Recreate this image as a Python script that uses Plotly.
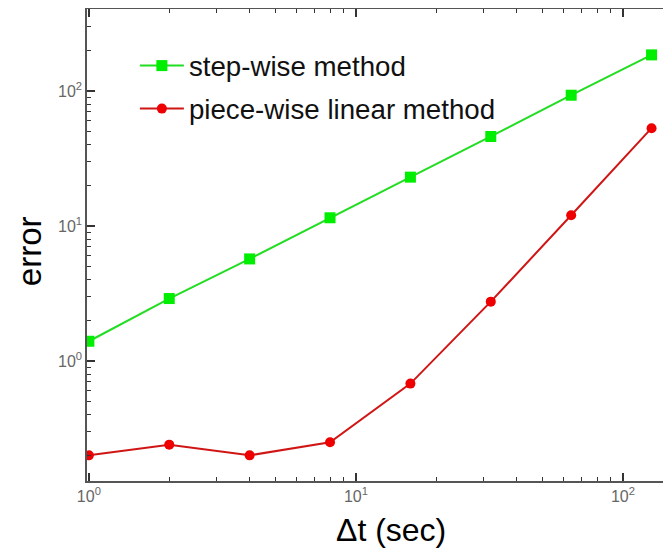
import plotly.graph_objects as go

dt = [1, 2, 4, 8, 16, 32, 64, 128]
step_err = [1.4, 2.9, 5.7, 11.5, 23, 46, 93, 185]
pw_err = [0.2, 0.24, 0.2, 0.25, 0.68, 2.75, 12, 53]
xtick_vals = [1, 10, 100]
xtick_text = ["10<sup>0</sup>", "10<sup>1</sup>", "10<sup>2</sup>"]
ytick_vals = [1, 10, 100]
ytick_text = ["10<sup>0</sup>", "10<sup>1</sup>", "10<sup>2</sup>"]

FONT = "Liberation Sans, Arial, Helvetica, sans-serif"

fig = go.Figure()
fig.add_trace(go.Scatter(
    x=dt, y=step_err, name="step-wise method", mode="lines+markers",
    line=dict(color="#22dd22", width=2),
    marker=dict(symbol="square", size=11, color="#00ee00"),
    legendgroup="a"))
fig.add_trace(go.Scatter(
    x=dt, y=pw_err, name="piece-wise linear method", mode="lines+markers",
    line=dict(color="#d01515", width=2),
    marker=dict(symbol="circle", size=10, color="#ee0000"),
    legendgroup="b"))

axis_common = dict(
    type="log", showgrid=False, zeroline=False, automargin=False,
    showline=True, linecolor="#555555", linewidth=1.5, mirror="allticks",
    ticks="inside", ticklen=8, tickwidth=1.5, tickcolor="#333333",
    tickfont=dict(family=FONT, size=16, color="#666666"),
    minor=dict(ticks="inside", ticklen=4, tickwidth=1, tickcolor="#333333", dtick="D1"),
)

fig.update_xaxes(range=[-0.007, 2.18], tickvals=xtick_vals, ticktext=xtick_text, **axis_common)
fig.update_yaxes(range=[-0.889, 2.607], tickvals=ytick_vals, ticktext=ytick_text, **axis_common)

fig.add_annotation(text="error", xref="paper", yref="paper", x=0, y=0.487,
                   xanchor="center", yanchor="middle", textangle=-90, showarrow=False,
                   font=dict(family=FONT, size=33, color="#000000"), xshift=-58)
fig.add_annotation(text="Δt (sec)", xref="paper", yref="paper", x=0.52, y=0,
                   xanchor="center", yanchor="middle", showarrow=False, yshift=-49,
                   font=dict(family=FONT, size=32, color="#000000"))

fig.update_layout(
    width=663, height=542,
    margin=dict(l=79, r=0, t=1, b=69),
    paper_bgcolor="white", plot_bgcolor="white",
    showlegend=True,
    legend=dict(x=0.082, y=0.932, xanchor="left", yanchor="top",
                font=dict(family=FONT, size=27.7, color="#111111"),
                bgcolor="rgba(0,0,0,0)", tracegroupgap=4, itemwidth=44),
)

fig.write_html("out.html")
